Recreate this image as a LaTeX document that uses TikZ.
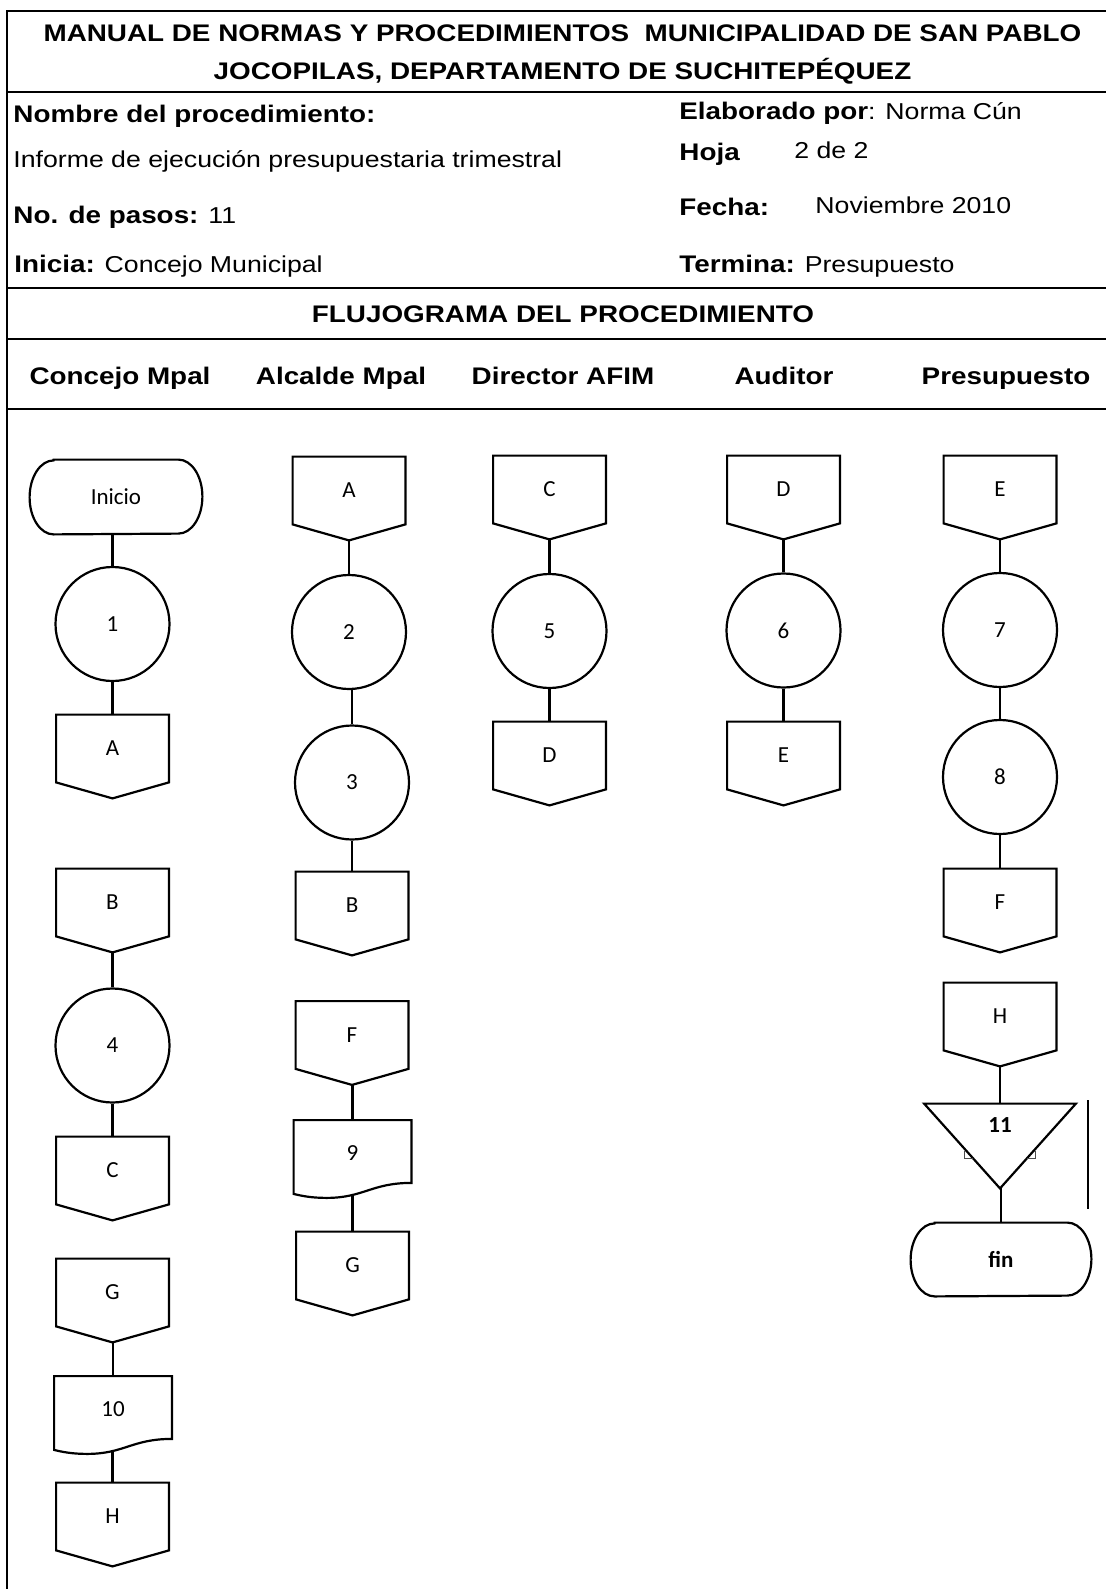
\documentclass[tikz,border=0pt]{standalone}
\usepackage{fontspec}
\setmainfont{Liberation Sans}
\newfontfamily\hdrfont{Liberation Sans}[FakeStretch=1.16]
\newfontfamily\shapefont{Carlito}
\usetikzlibrary{calc}
\pgfdeclarelayer{bg}
\pgfsetlayers{bg,main}

% bold run inside a regular header line
\newcommand\hbf[1]{{\bfseries\fontsize{12}{14}\selectfont #1}}
% off-page connector (pentagon pointing down) around a node
\newcommand\offpageshape[1]{%
  \draw[shapeline, fill=white] (#1.north west) -- (#1.north east) -- (#1.south east)
    -- ($(#1.south)+(0,16)$) -- (#1.south west) -- cycle;}
% document symbol with a wavy bottom edge
\newcommand\docshape[1]{%
  \draw[shapeline, fill=white] (#1.north west) -- (#1.north east)
    -- ($(#1.south east)+(0,-3)$)
    .. controls ($(#1.south east)+(-40,-3)$) and ($(#1.south west)+(70,12)$) .. ($(#1.south west)+(33,12)$)
    .. controls ($(#1.south west)+(18,12)$) and ($(#1.south west)+(8,10)$) .. ($(#1.south west)+(0,8)$)
    -- cycle;}
% terminal symbol with elliptic ends; #2 = half of the node height
\newcommand\termshape[2]{%
  \draw[shapeline, fill=white] ($(#1.north west)+(24,0)$) -- ($(#1.north east)+(-24,0)$)
    arc[start angle=90, end angle=-90, x radius=12pt, y radius=#2]
    -- ($(#1.south west)+(24,0)$)
    arc[start angle=270, end angle=90, x radius=12pt, y radius=#2] -- cycle;}
% straight vertical connector from the bottom of #1 to the top of #2
\newcommand\vlink[2]{\draw[link] (#1.south -| #2.north) -- (#2.north);}

\begin{document}
\begin{tikzpicture}[x=0.5pt,y=-0.5pt,
  frameline/.style={line width=0.9pt},
  hbold/.style={font=\hdrfont\bfseries\fontsize{12}{14}\selectfont, inner sep=0},
  hreg/.style={font=\hdrfont\fontsize{11.5}{14}\selectfont, inner sep=0},
  shapeline/.style={line width=1.1pt},
  link/.style={line width=1.1pt},
  shapetext/.style={font=\shapefont\fontsize{11.5}{13}\selectfont},
  offpage/.style={shapetext, minimum width=56pt, minimum height=33.5pt, inner sep=0},
  stepcircle/.style={shapetext, circle, draw, shapeline, fill=white, minimum size=57pt, inner sep=0},
  docnode/.style={shapetext, minimum width=58.5pt, minimum height=32.5pt, inner sep=0},
  termnode/.style={shapetext, inner sep=0},
  colhead/.style={hbold, anchor=base}
]
\useasboundingbox (0,0) rectangle (1106,1589);
\begin{pgfonlayer}{bg}
  \fill[white] (0,0) rectangle (1106,1589);
\end{pgfonlayer}

% ---- form frame ----
\draw[frameline] (1106,11) -- (7,11) -- (7,1589);
\draw[frameline] (7,92) -- (1106,92);
\draw[frameline] (7,288) -- (1106,288);
\draw[frameline] (7,339) -- (1106,339);
\draw[frameline] (7,409) -- (1106,409);

% ---- header texts ----
\node[hbold, anchor=base] (title1) at (562.5,42) {MANUAL DE NORMAS Y PROCEDIMIENTOS\ \ MUNICIPALIDAD DE SAN PABLO};
\node[hbold, anchor=base] (title2) at (562.5,79.5) {JOCOPILAS, DEPARTAMENTO DE SUCHITEPÉQUEZ};
\node[hbold, anchor=base west] (nombre) at (13,122.5) {Nombre del procedimiento:};
\node[hreg, anchor=base west] (elab) at (679,119.5) {\hbf{Elaborado por}: Norma Cún};
\node[hreg, anchor=base west] (informe) at (13,168) {Informe de ejecución presupuestaria trimestral};
\node[hbold, anchor=base west] (hoja) at (679,161) {Hoja};
\node[hreg, anchor=base west] (hojanum) at (794,158.5) {2 de 2};
\node[hreg, anchor=base west] (pasos) at (13,224) {\hbf{No. de pasos:} 11};
\node[hbold, anchor=base west] (fecha) at (679,216) {Fecha:};
\node[hreg, anchor=base west] (fechaval) at (815,214) {Noviembre 2010};
\node[hreg, anchor=base west] (inicia) at (14,272.5) {\hbf{Inicia:} Concejo Municipal};
\node[hreg, anchor=base west] (termina) at (679,272.5) {\hbf{Termina:} Presupuesto};
\node[hbold, anchor=base] (flujo) at (563,322.5) {FLUJOGRAMA DEL PROCEDIMIENTO};

\node[colhead] (h1) at (120,384.5) {Concejo Mpal};
\node[colhead] (h2) at (341,384.5) {Alcalde Mpal};
\node[colhead] (h3) at (563,384.5) {Director AFIM};
\node[colhead] (h4) at (784,384.5) {Auditor};
\node[colhead] (h5) at (1006,384.5) {Presupuesto};

% ---- Concejo Mpal ----
\node[termnode, minimum width=86pt, minimum height=37pt] (inicio) at (116,497) {Inicio};
\node[stepcircle] (c1) at (112.5,624) {1};
\node[offpage] (oA1) at (112.5,748.5) {A};
\node[offpage] (oB1) at (112.5,902.5) {B};
\node[stepcircle] (c4) at (112.5,1045.5) {4};
\node[offpage] (oC1) at (112.5,1170.5) {C};
\node[offpage] (oG1) at (112.5,1292.5) {G};
\node[docnode] (d10) at (113,1409) {10};
\node[offpage] (oH1) at (112.5,1516.5) {H};

% ---- Alcalde Mpal ----
\node[offpage] (oA2) at (349,490.5) {A};
\node[stepcircle] (c2) at (349,632) {2};
\node[stepcircle] (c3) at (352,782.5) {3};
\node[offpage] (oB2) at (352,905.5) {B};
\node[offpage] (oF2) at (352,1035) {F};
\node[docnode] (d9) at (352.5,1153) {9};
\node[offpage] (oG2) at (352.5,1265.5) {G};

% ---- Director AFIM ----
\node[offpage] (oC3) at (549.5,489.5) {C};
\node[stepcircle] (c5) at (549.5,631) {5};
\node[offpage] (oD3) at (549.5,755.5) {D};

% ---- Auditor ----
\node[offpage] (oD4) at (783.5,489.5) {D};
\node[stepcircle] (c6) at (783.5,630.5) {6};
\node[offpage] (oE4) at (783.5,755.5) {E};

% ---- Presupuesto ----
\node[offpage] (oE5) at (1000,489.5) {E};
\node[stepcircle] (c7) at (1000,630) {7};
\node[stepcircle] (c8) at (1000,777) {8};
\node[offpage] (oF5) at (1000,902.5) {F};
\node[offpage] (oH5) at (1000,1016.5) {H};
\node[minimum width=75.5pt, minimum height=42pt, inner sep=0] (t11) at (1000,1146) {};
\node[font=\shapefont\bfseries\fontsize{11.5}{13}\selectfont] (n11) at ($(t11.north)+(0,21)$) {11};
\node[termnode, font=\shapefont\bfseries\fontsize{11.5}{13}\selectfont, minimum width=90pt, minimum height=36.5pt] (fin) at (1001,1259.5) {fin};

% ---- connectors and outlines (behind the texts) ----
\begin{pgfonlayer}{bg}
  \vlink{inicio}{c1}
  \vlink{c1}{oA1}
  \vlink{oB1}{c4}
  \vlink{c4}{oC1}
  \vlink{oG1}{d10}
  \vlink{d10}{oH1}
  \vlink{oA2}{c2}
  \vlink{c2}{c3}
  \vlink{c3}{oB2}
  \vlink{oF2}{d9}
  \vlink{d9}{oG2}
  \vlink{oC3}{c5}
  \vlink{c5}{oD3}
  \vlink{oD4}{c6}
  \vlink{c6}{oE4}
  \vlink{oE5}{c7}
  \vlink{c7}{c8}
  \vlink{c8}{oF5}
  \vlink{oH5}{t11}
  \vlink{t11}{fin}

  \termshape{inicio}{18.5pt}
  \termshape{fin}{18.25pt}
  \foreach \n in {oA1,oB1,oC1,oG1,oH1,oA2,oB2,oF2,oG2,oC3,oD3,oD4,oE4,oE5,oF5,oH5}
    {\offpageshape{\n}}
  \docshape{d10}
  \docshape{d9}
  \draw[shapeline, fill=white] (t11.north west) -- (t11.north east) -- (t11.south) -- cycle;
\end{pgfonlayer}

% small leftover marks beside the merge triangle
\draw[line width=0.4pt, black!70] (964,1151) -- (964,1158) -- (973,1158);
\draw[line width=0.4pt, black!70] (1027,1158) -- (1035,1158) -- (1035,1151);
\draw[line width=0.6pt] (1088,1100) -- (1088,1209);
\end{tikzpicture}
\end{document}
